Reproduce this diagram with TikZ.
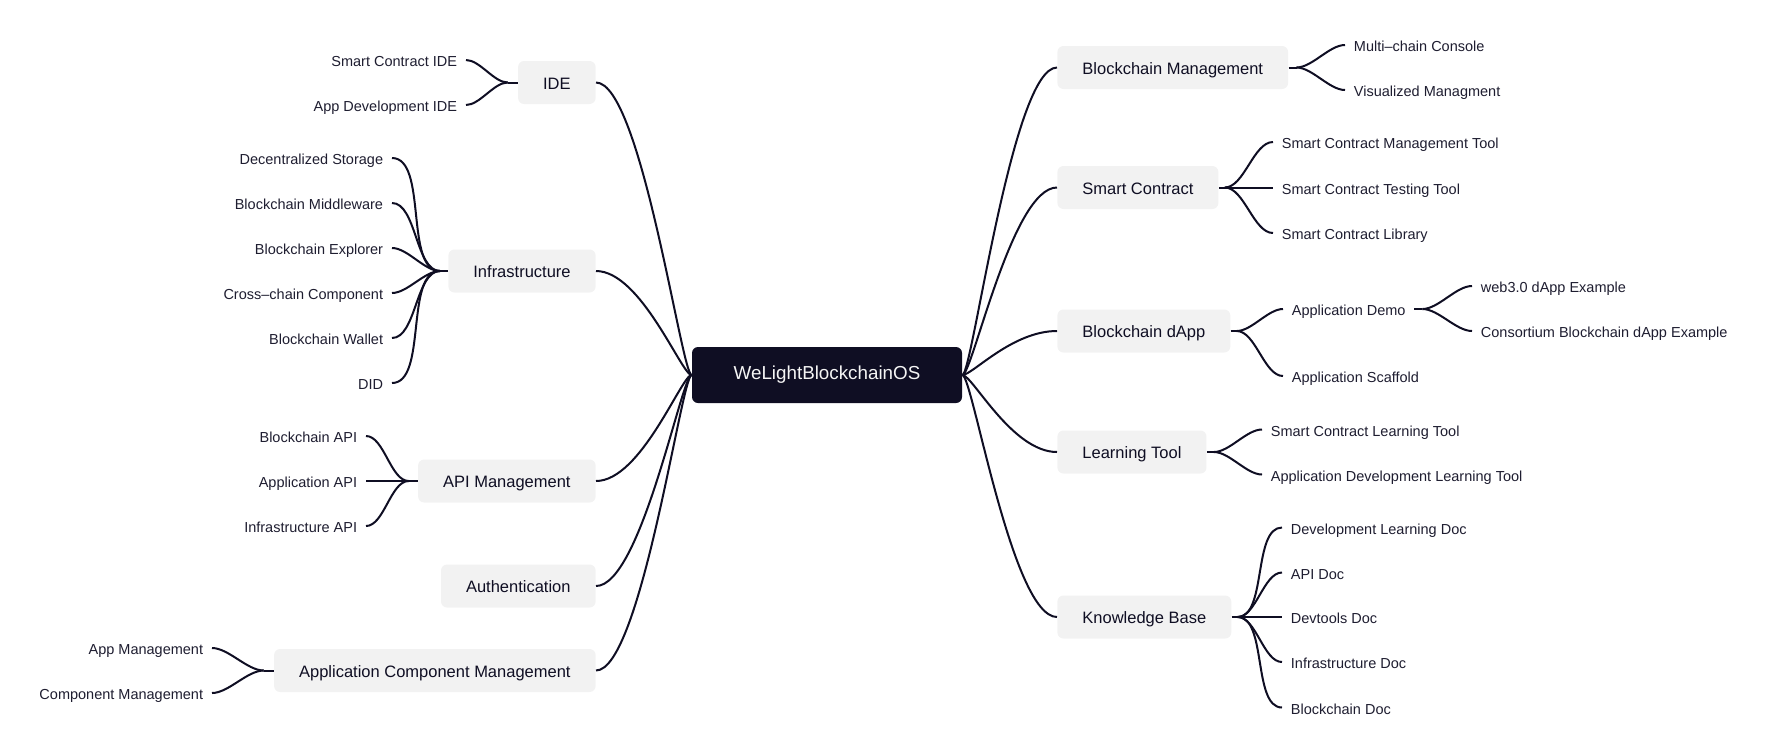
\documentclass[tikz,border=0pt]{standalone}
\usepackage{fontspec}
\setmainfont{Liberation Sans}
\usepackage{xcolor}
\usepackage{tikz}
\definecolor{ink}{HTML}{0F0E23}
\definecolor{boxgray}{HTML}{F2F2F2}
\definecolor{leafink}{HTML}{1E1D30}

\begin{document}
\begin{tikzpicture}[x=0.5pt,y=-0.5pt,
	root/.style={fill=ink,text=white!96!black,rounded corners=3pt,minimum width=135pt,minimum height=28pt,font=\fontsize{9.4pt}{11pt}\selectfont},
	topic/.style={fill=boxgray,text=ink,rounded corners=3pt,minimum height=21.5pt,inner xsep=12.5pt,text height=1.6ex,text depth=.3ex,font=\fontsize{8.25pt}{10pt}\selectfont},
	leaf/.style={text=leafink,inner xsep=4.25pt,inner ysep=1pt,text height=1.6ex,text depth=.3ex,font=\fontsize{7.25pt}{9pt}\selectfont},
	link/.style={draw=ink,line width=1pt},
	toL/.style={out=180,in=0,out distance=5pt,in distance=22.5pt},
	toR/.style={out=0,in=180,out distance=5pt,in distance=22.5pt},
	sproutL/.style={out=180,in=0,looseness=0.75},
	sproutR/.style={out=0,in=180,looseness=0.75}]
		\useasboundingbox (0,0) rectangle (1770,751);
		\node[root] (os) at (827,375) {WeLightBlockchainOS};
		%
		% left topics
		\node[topic,anchor=east] (ide) at (596,82.5) {IDE};
		\node[topic,anchor=east] (infra) at (596,271) {Infrastructure};
		\node[topic,anchor=east] (api) at (596,481) {API Management};
		\node[topic,anchor=east] (auth) at (596,586) {Authentication};
		\node[topic,anchor=east] (appcomp) at (596,670.5) {Application Component Management};
		% right topics
		\node[topic,anchor=west] (bm) at (1057,67.5) {Blockchain Management};
		\node[topic,anchor=west] (sc) at (1057,187.5) {Smart Contract};
		\node[topic,anchor=west] (dapp) at (1057,331) {Blockchain dApp};
		\node[topic,anchor=west] (learn) at (1057,452) {Learning Tool};
		\node[topic,anchor=west] (kb) at (1057,617) {Knowledge Base};
		%
		\coordinate (ide-j) at ([xshift=-5pt]ide.west);
		\coordinate (infra-j) at ([xshift=-4pt]infra.west);
		\coordinate (api-j) at ([xshift=-4.5pt]api.west);
		\coordinate (appcomp-j) at ([xshift=-5pt]appcomp.west);
		\coordinate (bm-j) at ([xshift=4pt]bm.east);
		\coordinate (sc-j) at ([xshift=3pt]sc.east);
		\coordinate (dapp-j) at ([xshift=3pt]dapp.east);
		\coordinate (learn-j) at ([xshift=3.5pt]learn.east);
		\coordinate (kb-j) at ([xshift=3pt]kb.east);
		%
		% left leaves
		\node[leaf,anchor=east] (ide1) at (466,60) {Smart Contract IDE};
		\node[leaf,anchor=east] (ide2) at (466,105) {App Development IDE};
		\node[leaf,anchor=east] (infra1) at (392,158) {Decentralized Storage};
		\node[leaf,anchor=east] (infra2) at (392,203) {Blockchain Middleware};
		\node[leaf,anchor=east] (infra3) at (392,248) {Blockchain Explorer};
		\node[leaf,anchor=east] (infra4) at (392,293) {Cross--chain Component};
		\node[leaf,anchor=east] (infra5) at (392,338) {Blockchain Wallet};
		\node[leaf,anchor=east] (infra6) at (392,383) {DID\ };
		\node[leaf,anchor=east] (api1) at (366,436) {Blockchain API};
		\node[leaf,anchor=east] (api2) at (366,481) {Application API};
		\node[leaf,anchor=east] (api3) at (366,526) {Infrastructure API};
		\node[leaf,anchor=east] (appcomp1) at (212,648) {App Management};
		\node[leaf,anchor=east] (appcomp2) at (212,693) {Component Management};
		% right leaves
		\node[leaf,anchor=west] (bm1) at (1345,45) {Multi--chain Console};
		\node[leaf,anchor=west] (bm2) at (1345,90) {Visualized Managment};
		\node[leaf,anchor=west] (sc1) at (1273,142) {Smart Contract Management Tool};
		\node[leaf,anchor=west] (sc2) at (1273,187.5) {Smart Contract Testing Tool};
		\node[leaf,anchor=west] (sc3) at (1273,233) {Smart Contract Library};
		\node[leaf,anchor=west] (dapp1) at (1283,309) {Application Demo};
		\node[leaf,anchor=west] (dapp2) at (1283,376) {Application Scaffold};
		\coordinate (dapp1-j) at ([xshift=4pt]dapp1.east);
		\node[leaf,anchor=west] (demo1) at (1472,286) {web3.0 dApp Example};
		\node[leaf,anchor=west] (demo2) at (1472,331) {Consortium Blockchain dApp Example};
		\node[leaf,anchor=west] (learn1) at (1262,429.5) {Smart Contract Learning Tool};
		\node[leaf,anchor=west] (learn2) at (1262,474.5) {Application Development Learning Tool};
		\node[leaf,anchor=west] (kb1) at (1282,527.5) {Development Learning Doc};
		\node[leaf,anchor=west] (kb2) at (1282,572.5) {API Doc};
		\node[leaf,anchor=west] (kb3) at (1282,617) {Devtools Doc};
		\node[leaf,anchor=west] (kb4) at (1282,662) {Infrastructure Doc};
		\node[leaf,anchor=west] (kb5) at (1282,707.5) {Blockchain Doc};
		%
		\path[link]
		% main branches
		(os) edge[toL] (ide)
		(os) edge[toL] (infra)
		(os) edge[toL] (api)
		(os) edge[toL] (auth)
		(os) edge[toL] (appcomp)
		(os) edge[toR] (bm)
		(os) edge[toR] (sc)
		(os) edge[toR] (dapp)
		(os) edge[toR] (learn)
		(os) edge[toR] (kb)
		% stubs
		(ide) edge (ide-j)
		(infra) edge (infra-j)
		(api) edge (api-j)
		(appcomp) edge (appcomp-j)
		(bm) edge (bm-j)
		(sc) edge (sc-j)
		(dapp) edge (dapp-j)
		(learn) edge (learn-j)
		(kb) edge (kb-j)
		(dapp1) edge (dapp1-j)
		% left leaves
		(ide-j) edge[sproutL] (ide1)
		(ide-j) edge[sproutL] (ide2)
		(infra-j) edge[sproutL] (infra1)
		(infra-j) edge[sproutL] (infra2)
		(infra-j) edge[sproutL] (infra3)
		(infra-j) edge[sproutL] (infra4)
		(infra-j) edge[sproutL] (infra5)
		(infra-j) edge[sproutL] (infra6)
		(api-j) edge[sproutL] (api1)
		(api-j) edge[sproutL] (api2)
		(api-j) edge[sproutL] (api3)
		(appcomp-j) edge[sproutL] (appcomp1)
		(appcomp-j) edge[sproutL] (appcomp2)
		% right leaves
		(bm-j) edge[sproutR] (bm1)
		(bm-j) edge[sproutR] (bm2)
		(sc-j) edge[sproutR] (sc1)
		(sc-j) edge[sproutR] (sc2)
		(sc-j) edge[sproutR] (sc3)
		(dapp-j) edge[sproutR] (dapp1)
		(dapp-j) edge[sproutR] (dapp2)
		(dapp1-j) edge[sproutR] (demo1)
		(dapp1-j) edge[sproutR] (demo2)
		(learn-j) edge[sproutR] (learn1)
		(learn-j) edge[sproutR] (learn2)
		(kb-j) edge[sproutR] (kb1)
		(kb-j) edge[sproutR] (kb2)
		(kb-j) edge[sproutR] (kb3)
		(kb-j) edge[sproutR] (kb4)
		(kb-j) edge[sproutR] (kb5);
\end{tikzpicture}
\end{document}
